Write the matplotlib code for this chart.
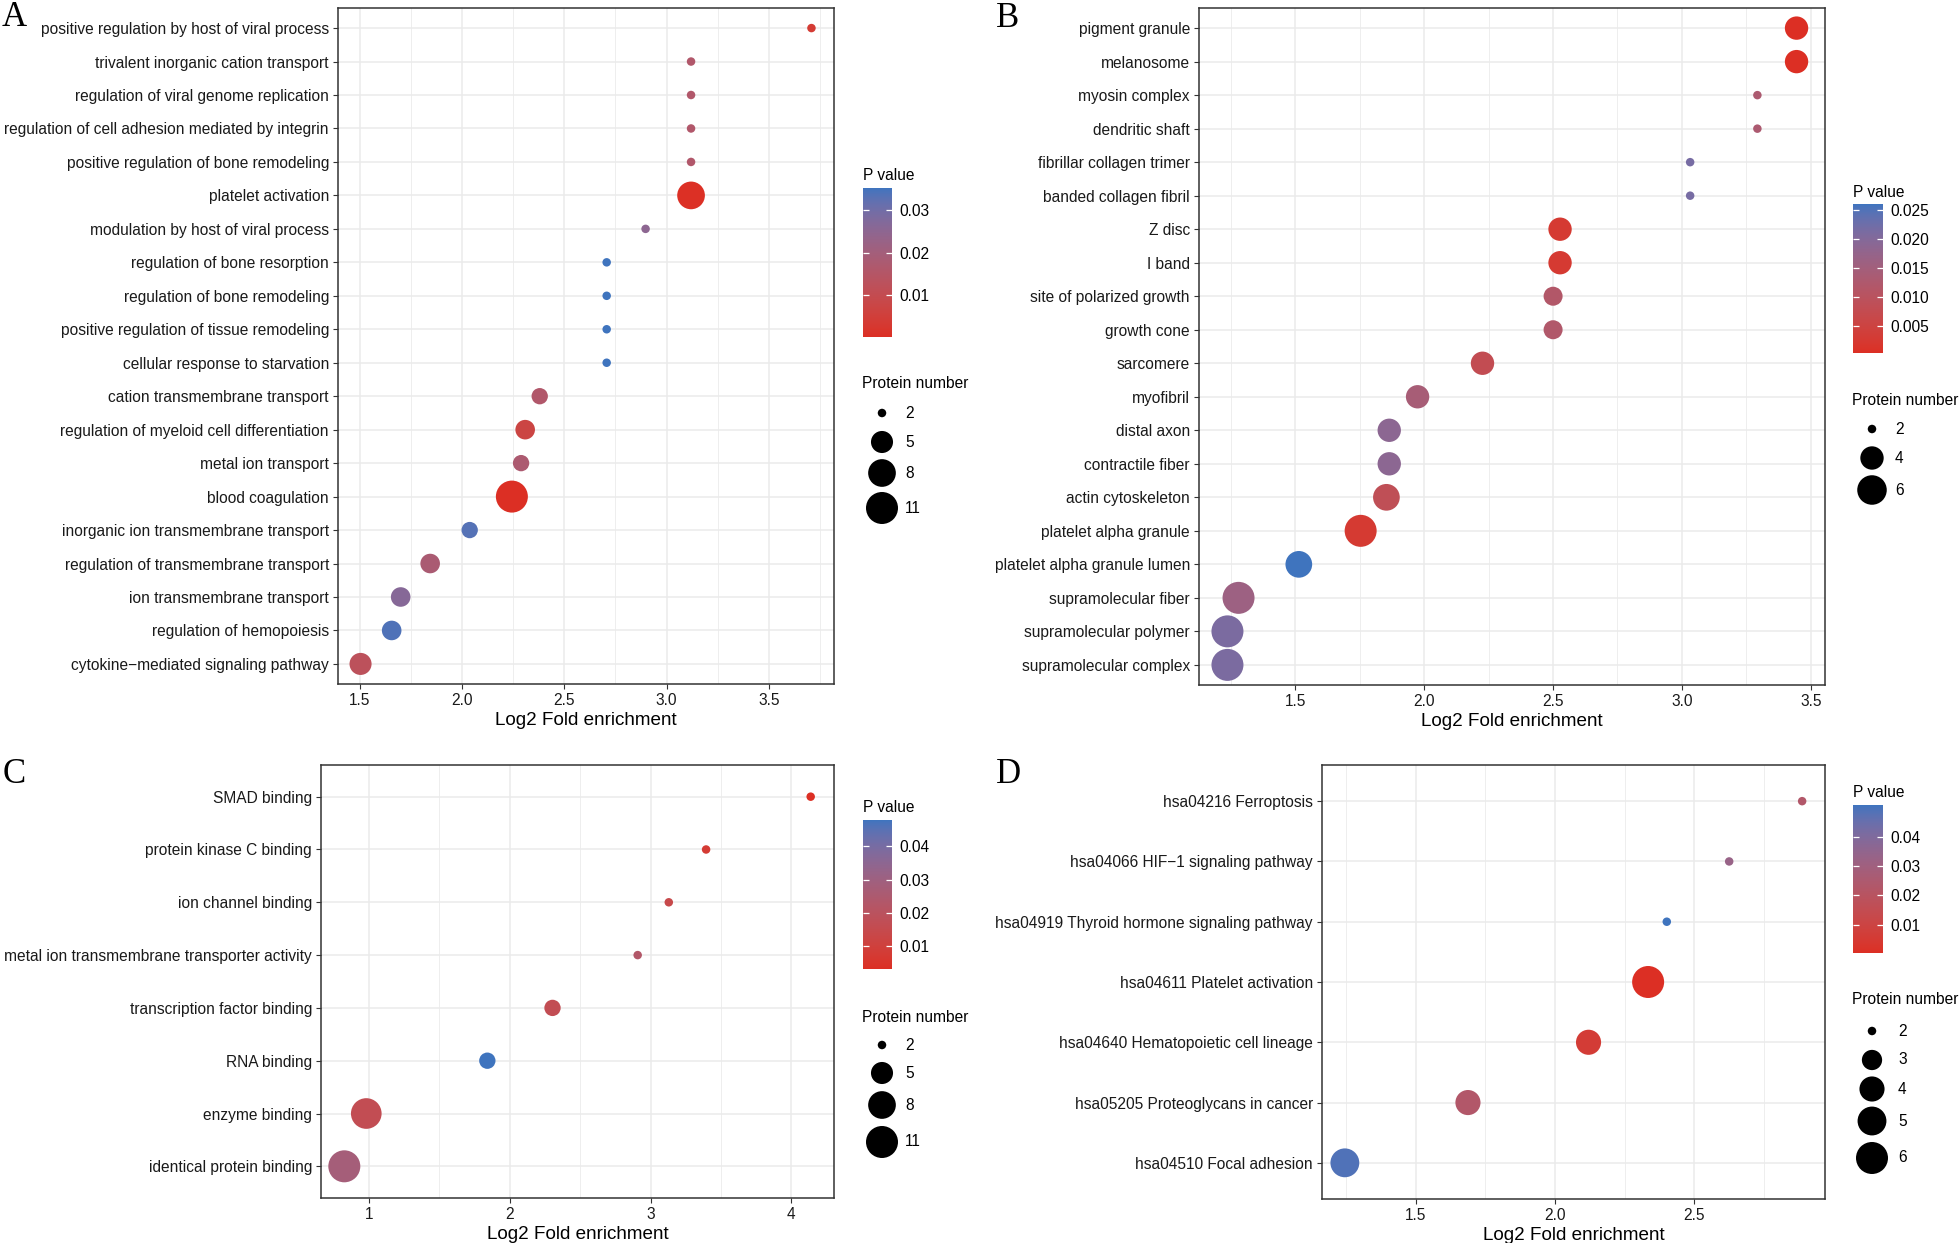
import numpy as np
import matplotlib
matplotlib.use("Agg")
import matplotlib.pyplot as plt
from matplotlib.colors import ListedColormap, Normalize
from matplotlib.cm import ScalarMappable
from matplotlib.ticker import MultipleLocator, AutoMinorLocator, FormatStrFormatter

plt.rcParams['font.family'] = ['Liberation Sans', 'DejaVu Sans']

# ---- data ----
a_terms = ["positive regulation by host of viral process", "trivalent inorganic cation transport",
           "regulation of viral genome replication", "regulation of cell adhesion mediated by integrin",
           "positive regulation of bone remodeling", "platelet activation",
           "modulation by host of viral process", "regulation of bone resorption",
           "regulation of bone remodeling", "positive regulation of tissue remodeling",
           "cellular response to starvation", "cation transmembrane transport",
           "regulation of myeloid cell differentiation", "metal ion transport", "blood coagulation",
           "inorganic ion transmembrane transport", "regulation of transmembrane transport",
           "ion transmembrane transport", "regulation of hemopoiesis",
           "cytokine\u2212mediated signaling pathway"]
a_fold = [3.707, 3.119, 3.119, 3.119, 3.119, 3.119, 2.897, 2.707, 2.707, 2.707, 2.707,
          2.380, 2.309, 2.289, 2.244, 2.038, 1.845, 1.701, 1.657, 1.505]
a_pval = [0.0035, 0.016, 0.016, 0.016, 0.016, 0.0003, 0.025, 0.0353, 0.0353, 0.0353, 0.0353,
          0.016, 0.007, 0.0175, 0.00005, 0.0335, 0.018, 0.0265, 0.034, 0.0125]
a_count = [2, 2, 2, 2, 2, 8, 2, 2, 2, 2, 2, 3, 4, 3, 11, 3, 4, 4, 4, 5]

b_terms = ["pigment granule", "melanosome", "myosin complex", "dendritic shaft",
           "fibrillar collagen trimer", "banded collagen fibril", "Z disc", "I band",
           "site of polarized growth", "growth cone", "sarcomere", "myofibril", "distal axon",
           "contractile fiber", "actin cytoskeleton", "platelet alpha granule",
           "platelet alpha granule lumen", "supramolecular fiber", "supramolecular polymer",
           "supramolecular complex"]
b_fold = [3.445, 3.445, 3.293, 3.293, 3.032, 3.032, 2.527, 2.527, 2.500, 2.500, 2.226,
          1.974, 1.864, 1.864, 1.853, 1.753, 1.513, 1.279, 1.236, 1.236]
b_pval = [0.0003, 0.0003, 0.013, 0.013, 0.0215, 0.0215, 0.0026, 0.0026, 0.0117, 0.012, 0.0078,
          0.014, 0.0187, 0.0187, 0.0086, 0.0026, 0.026, 0.016, 0.021, 0.021]
b_count = [4, 4, 2, 2, 2, 2, 4, 4, 3, 3, 4, 4, 4, 4, 5, 7, 5, 7, 7, 7]

c_terms = ["SMAD binding", "protein kinase C binding", "ion channel binding",
           "metal ion transmembrane transporter activity", "transcription factor binding",
           "RNA binding", "enzyme binding", "identical protein binding"]
c_fold = [4.137, 3.394, 3.129, 2.908, 2.303, 1.840, 0.980, 0.824]
c_pval = [0.003, 0.0075, 0.014, 0.023, 0.0165, 0.048, 0.0165, 0.0278]
c_count = [2, 2, 2, 2, 3, 3, 10, 11]

d_terms = ["hsa04216 Ferroptosis", "hsa04066 HIF\u22121 signaling pathway",
           "hsa04919 Thyroid hormone signaling pathway", "hsa04611 Platelet activation",
           "hsa04640 Hematopoietic cell lineage", "hsa05205 Proteoglycans in cancer",
           "hsa04510 Focal adhesion"]
d_fold = [2.887, 2.625, 2.401, 2.334, 2.120, 1.687, 1.245]
d_pval = [0.023, 0.033, 0.051, 0.0003, 0.006, 0.023, 0.049]
d_count = [2, 2, 2, 6, 4, 4, 5]

a_pticks = [0.01, 0.02, 0.03]
b_pticks = [0.005, 0.010, 0.015, 0.020, 0.025]
c_pticks = [0.01, 0.02, 0.03, 0.04]
d_pticks = [0.01, 0.02, 0.03, 0.04]
a_sizes = [2, 5, 8, 11]
b_sizes = [2, 4, 6]
c_sizes = [2, 5, 8, 11]
d_sizes = [2, 3, 4, 5, 6]

# ---- colour ramp (interpolated in CIELAB like ggplot) ----
M = np.array([[0.4124, 0.3576, 0.1805], [0.2126, 0.7152, 0.0722], [0.0193, 0.1192, 0.9505]])
WP = np.array([0.95047, 1.0, 1.08883])


def to_lab(hexcol):
    c = np.array([int(hexcol[i:i + 2], 16) / 255 for i in (1, 3, 5)])
    lin = np.where(c <= 0.04045, c / 12.92, ((c + 0.055) / 1.055) ** 2.4)
    t = (M @ lin) / WP
    f = np.where(t > (6 / 29) ** 3, np.cbrt(t), t / (3 * (6 / 29) ** 2) + 4 / 29)
    return np.array([116 * f[1] - 16, 500 * (f[0] - f[1]), 200 * (f[1] - f[2])])


def from_lab(lab):
    fy = (lab[0] + 16) / 116
    f = np.array([fy + lab[1] / 500, fy, fy - lab[2] / 200])
    t = np.where(f > 6 / 29, f ** 3, 3 * (6 / 29) ** 2 * (f - 4 / 29))
    lin = np.clip(np.linalg.inv(M) @ (t * WP), 0, 1)
    return np.where(lin <= 0.0031308, 12.92 * lin, 1.055 * lin ** (1 / 2.4) - 0.055)


lo, hi = to_lab("#DC2F24"), to_lab("#3F74BE")
cmap = ListedColormap([np.clip(from_lab(lo + (hi - lo) * t), 0, 1) for t in np.linspace(0, 1, 256)])

W, H = 1960, 1243
fig = plt.figure(figsize=(W / 100, H / 100), dpi=100)


def px_axes(x0, y0, x1, y1):
    return fig.add_axes([x0 / W, 1 - y1 / H, (x1 - x0) / W, (y1 - y0) / H])


def diam(v, vmin, vmax):
    return 8.5 + 23.5 * np.sqrt((np.asarray(v, float) - vmin) / (vmax - vmin))


def dot_panel(box, terms, fold, pval, count, step, fmt):
    ax = px_axes(*box)
    n = len(terms)
    y = np.arange(n)[::-1]
    d = diam(count, min(count), max(count))
    norm = Normalize(min(pval), max(pval))
    ax.scatter(fold, y, s=(d * 0.72) ** 2, c=pval, cmap=cmap, norm=norm, linewidths=0, zorder=3)
    lo_x, hi_x = min(fold), max(fold)
    pad = (hi_x - lo_x) * 0.05
    ax.set_xlim(lo_x - pad, hi_x + pad)
    ax.set_ylim(-0.6, n - 0.4)
    ax.set_yticks(y)
    ax.set_yticklabels(terms)
    ax.xaxis.set_major_locator(MultipleLocator(step))
    ax.xaxis.set_major_formatter(FormatStrFormatter(fmt))
    ax.xaxis.set_minor_locator(AutoMinorLocator(2))
    ax.set_axisbelow(True)
    ax.grid(which='major', color='#EBEBEB', lw=1.1)
    ax.grid(which='minor', axis='x', color='#EBEBEB', lw=0.6)
    ax.tick_params(which='major', length=3.6, width=0.8, color='#333333', labelsize=11.2,
                   labelcolor='#1a1a1a', pad=2.9)
    ax.tick_params(which='minor', length=0)
    for sp in ax.spines.values():
        sp.set_color('#333333')
        sp.set_linewidth(1.1)
    ax.set_xlabel('Log2 Fold enrichment', fontsize=13.6, labelpad=3)
    return norm, (min(count), max(count))


def color_legend(norm, ticks, fmt, bar, title_y):
    cax = px_axes(*bar)
    cb = fig.colorbar(ScalarMappable(norm=norm, cmap=cmap), cax=cax)
    cb.outline.set_visible(False)
    cb.set_ticks(ticks)
    cb.set_ticklabels([fmt % t for t in ticks])
    cax.tick_params(left=True, right=True, labelleft=False, labelright=True, direction='in',
                    length=4.3, width=0.9, color='white', labelsize=11.2, pad=5)
    lay.text(bar[0], title_y, 'P value', fontsize=11.2, va='center', ha='left')


def size_legend(breaks, rng, x0, title_y, ys, cx, lx):
    lay.text(x0, title_y, 'Protein number', fontsize=11.2, va='center', ha='left')
    d = diam(breaks, *rng)
    lay.scatter([cx] * len(breaks), ys, s=(d * 0.72) ** 2, color='black', linewidths=0)
    for b, yy in zip(breaks, ys):
        lay.text(lx, yy, str(b), fontsize=11.2, va='center', ha='left')


na, ra = dot_panel((338, 8, 834, 684), a_terms, a_fold, a_pval, a_count, 0.5, '%.1f')
nb, rb = dot_panel((1199, 8, 1825, 685), b_terms, b_fold, b_pval, b_count, 0.5, '%.1f')
nc, rc = dot_panel((321, 765, 834, 1198), c_terms, c_fold, c_pval, c_count, 1, '%d')
nd, rd = dot_panel((1322, 765, 1825, 1199), d_terms, d_fold, d_pval, d_count, 0.5, '%.1f')

lay = fig.add_axes([0, 0, 1, 1])
lay.set_xlim(0, W)
lay.set_ylim(H, 0)
lay.axis('off')

color_legend(na, a_pticks, '%.2f', (863, 188, 892, 337), 175)
color_legend(nb, b_pticks, '%.3f', (1853, 204, 1883, 353), 192)
color_legend(nc, c_pticks, '%.2f', (863, 820, 892, 969), 807)
color_legend(nd, d_pticks, '%.2f', (1853, 805, 1883, 953), 792)

size_legend(a_sizes, ra, 862, 383, [413, 442, 473, 508], 882, 905)
size_legend(b_sizes, rb, 1852, 400, [429, 458, 490], 1872, 1895)
size_legend(c_sizes, rc, 862, 1017, [1045, 1073, 1105, 1142], 882, 905)
size_legend(d_sizes, rd, 1852, 999, [1031, 1060, 1089, 1121, 1158], 1872, 1898)

for letter, (lx, ly) in zip('ABCD', [(2, 26), (996, 27), (3, 783), (996, 783)]):
    lay.text(lx, ly, letter, fontsize=25, family='Liberation Serif', va='baseline', ha='left')

fig.savefig('out.png', dpi=100)
